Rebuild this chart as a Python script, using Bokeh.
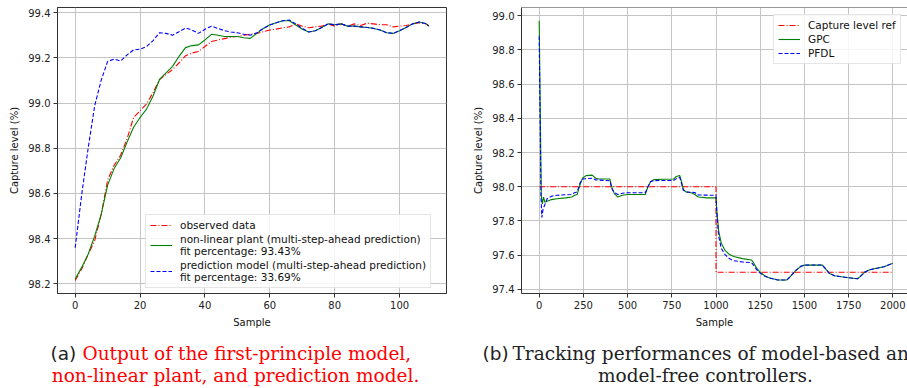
from bokeh.plotting import figure
from bokeh.layouts import column, row
from bokeh.models import (FixedTicker, PrintfTickFormatter, Legend, LegendItem,
                          Label, Span, Range1d)
from bokeh.embed import file_html
from bokeh.resources import INLINE

# ---------------- data: left panel (a) ----------------
samp_a = [0, 2, 4, 6, 8, 10, 12, 14, 16, 18, 20, 22, 24, 26, 28, 30, 32, 34, 36, 38,
          40, 42, 44, 46, 48, 50, 52, 54, 56, 58, 60, 62, 64, 66, 68, 70, 72, 74, 76, 78,
          80, 82, 84, 86, 88, 90, 92, 94, 96, 98, 100, 102, 104, 106, 108, 109]
observed = [98.215, 98.266, 98.331, 98.390, 98.506, 98.659, 98.725, 98.769, 98.842, 98.936,
            98.966, 98.995, 99.046, 99.104, 99.126, 99.148, 99.177, 99.209, 99.221, 99.228,
            99.250, 99.272, 99.279, 99.285, 99.291, 99.294, 99.300, 99.304, 99.308, 99.315,
            99.323, 99.327, 99.333, 99.337, 99.350, 99.340, 99.333, 99.337, 99.340, 99.350,
            99.340, 99.350, 99.340, 99.350, 99.343, 99.353, 99.350, 99.346, 99.346, 99.337,
            99.340, 99.343, 99.350, 99.355, 99.350, 99.343]
plant = [98.222, 98.273, 98.331, 98.411, 98.506, 98.637, 98.710, 98.757, 98.827, 98.893,
         98.936, 98.973, 99.031, 99.104, 99.133, 99.162, 99.206, 99.245, 99.254, 99.257,
         99.279, 99.304, 99.300, 99.294, 99.294, 99.294, 99.289, 99.286, 99.308, 99.330,
         99.346, 99.355, 99.364, 99.364, 99.345, 99.326, 99.314, 99.320, 99.334, 99.350,
         99.346, 99.350, 99.340, 99.340, 99.337, 99.334, 99.330, 99.323, 99.311, 99.308,
         99.320, 99.334, 99.350, 99.358, 99.352, 99.340]
pred_model = [98.360, 98.594, 98.800, 98.987, 99.100, 99.184, 99.194, 99.186, 99.213, 99.235,
              99.238, 99.250, 99.276, 99.311, 99.308, 99.300, 99.315, 99.332, 99.323, 99.308,
              99.326, 99.340, 99.330, 99.320, 99.314, 99.311, 99.304, 99.300, 99.311, 99.330,
              99.345, 99.355, 99.364, 99.367, 99.350, 99.330, 99.314, 99.320, 99.334, 99.350,
              99.346, 99.350, 99.340, 99.340, 99.337, 99.334, 99.330, 99.323, 99.311, 99.308,
              99.320, 99.334, 99.350, 99.358, 99.352, 99.340]

# ---------------- data: right panel (b) ----------------
ref_x = [0, 1000, 1000, 2000]
ref_y = [98.0, 98.0, 97.5, 97.5]

gpc_x = [0, 12, 18, 25, 32, 45, 70, 100, 150, 185, 200, 215, 230, 245, 265, 300, 320, 340,
         400, 410, 425, 445, 470, 500, 600, 615, 630, 650, 700, 760, 775, 795, 805, 815,
         830, 860, 880, 900, 950, 1000, 1005, 1015, 1030, 1050, 1075, 1100, 1150, 1200,
         1210, 1230, 1250, 1275, 1300, 1350, 1400, 1420, 1450, 1480, 1500, 1600, 1620,
         1640, 1670, 1700, 1750, 1800, 1815, 1840, 1870, 1900, 1950, 2000]
gpc_y = [98.97, 97.95, 97.90, 97.94, 97.91, 97.915, 97.925, 97.93, 97.935, 97.94, 97.95,
         97.955, 98.01, 98.05, 98.065, 98.068, 98.05, 98.045, 98.045, 98.0, 97.96, 97.94,
         97.95, 97.955, 97.955, 98.0, 98.03, 98.042, 98.044, 98.045, 98.06, 98.066, 98.03,
         97.985, 97.97, 97.965, 97.955, 97.94, 97.935, 97.935, 97.86, 97.74, 97.67, 97.63,
         97.605, 97.592, 97.58, 97.572, 97.56, 97.525, 97.50, 97.48, 97.468, 97.455,
         97.455, 97.475, 97.51, 97.535, 97.542, 97.543, 97.52, 97.495, 97.48, 97.475,
         97.468, 97.462, 97.475, 97.50, 97.515, 97.522, 97.532, 97.553]

pfdl_x = [0, 10, 15, 22, 30, 45, 70, 100, 180, 200, 215, 230, 245, 300, 320, 400, 410,
          425, 445, 470, 500, 600, 615, 630, 650, 760, 780, 795, 805, 815, 830, 880, 900,
          1000, 1005, 1015, 1030, 1050, 1075, 1100, 1150, 1200, 1210, 1230, 1250, 1275,
          1300, 1350, 1400, 1420, 1450, 1480, 1500, 1600, 1620, 1640, 1670, 1700, 1750,
          1800, 1815, 1840, 1870, 1900, 1950, 2000]
pfdl_y = [98.88, 97.95, 97.82, 97.87, 97.89, 97.93, 97.945, 97.95, 97.955, 97.965, 97.97,
          98.02, 98.045, 98.05, 98.04, 98.035, 97.99, 97.965, 97.955, 97.962, 97.965,
          97.965, 98.0, 98.03, 98.036, 98.037, 98.05, 98.055, 98.02, 97.98, 97.97, 97.966,
          97.952, 97.95, 97.84, 97.71, 97.64, 97.605, 97.58, 97.568, 97.56, 97.557, 97.545,
          97.515, 97.495, 97.478, 97.467, 97.455, 97.455, 97.475, 97.51, 97.535, 97.542,
          97.543, 97.52, 97.495, 97.48, 97.475, 97.468, 97.462, 97.475, 97.50, 97.515,
          97.522, 97.532, 97.553]

a_xticks = [0, 20, 40, 60, 80, 100]
a_yticks = [98.2, 98.4, 98.6, 98.8, 99.0, 99.2, 99.4]
b_xticks = [0, 250, 500, 750, 1000, 1250, 1500, 1750, 2000]
b_yticks = [97.4, 97.6, 97.8, 98.0, 98.2, 98.4, 98.6, 98.8, 99.0]

caption_a1 = "Output of the first-principle model,"
caption_a2 = "non-linear plant, and prediction model."
caption_b1 = "Tracking performances of model-based and"
caption_b2 = "model-free controllers."

FONT = "DejaVu Sans"
SERIF = "DejaVu Serif"
RED = "#ff0000"
GREEN = "#008000"
BLUE = "#0000ff"


def style(p, xticks, yticks):
    p.xgrid.ticker = FixedTicker(ticks=xticks)
    p.ygrid.ticker = FixedTicker(ticks=yticks)
    p.grid.grid_line_color = "#c4c4c4"
    p.grid.grid_line_width = 1
    p.xaxis.ticker = FixedTicker(ticks=xticks)
    p.yaxis.ticker = FixedTicker(ticks=yticks)
    p.yaxis.formatter = PrintfTickFormatter(format="%.1f")
    for ax in (p.xaxis[0], p.yaxis[0]):
        ax.major_tick_out = 4
        ax.major_tick_in = 0
        ax.minor_tick_line_color = None
        ax.major_label_text_font = FONT
        ax.major_label_text_font_size = "10px"
        ax.major_label_text_color = "#222222"
        ax.axis_label_text_font = FONT
        ax.axis_label_text_font_size = "10px"
        ax.axis_label_text_font_style = "normal"
        ax.axis_label_text_color = "#111111"
        ax.axis_line_color = "#333333"
        ax.major_tick_line_color = "#333333"
        ax.major_label_standoff = 3
        ax.axis_label_standoff = 5
    p.outline_line_color = "#333333"
    p.background_fill_color = "white"
    p.border_fill_color = "white"


# ---------------- panel (a) ----------------
p1 = figure(width=455, height=330, output_backend="svg", toolbar_location=None,
            x_range=Range1d(-5.45, 114.45), y_range=Range1d(98.1575, 99.4225),
            min_border_left=57, min_border_right=9, min_border_top=7, min_border_bottom=34)
style(p1, a_xticks, a_yticks)
p1.xaxis.axis_label = "Sample"
p1.yaxis.axis_label = "Capture level (%)"
r_obs = p1.line(samp_a, observed, line_color=RED, line_width=1.1, line_dash="6 2 1 2")
r_pl = p1.line(samp_a, plant, line_color=GREEN, line_width=1.1)
r_pm = p1.line(samp_a, pred_model, line_color=BLUE, line_width=1.1, line_dash="4 2")
leg1 = Legend(items=[
    LegendItem(label="observed data", renderers=[r_obs]),
    LegendItem(label="non-linear plant (multi-step-ahead prediction)\nfit percentage: 93.43%",
               renderers=[r_pl]),
    LegendItem(label="prediction model (multi-step-ahead prediction)\nfit percentage: 33.69%",
               renderers=[r_pm]),
], location=(88, 5))
p1.add_layout(leg1)

# ---------------- panel (b) ----------------
p2 = figure(width=452, height=330, output_backend="svg", toolbar_location=None,
            x_range=Range1d(-100, 2083), y_range=Range1d(97.376, 99.048),
            min_border_left=66, min_border_right=0, min_border_top=7, min_border_bottom=34)
style(p2, b_xticks, b_yticks)
p2.outline_line_color = None
p2.add_layout(Span(location=99.048, dimension="width", line_color="#333333", line_width=1))
p2.xaxis.axis_label = "Sample"
p2.yaxis.axis_label = "Capture level (%)"
r_ref = p2.line(ref_x, ref_y, line_color=RED, line_width=1.1, line_dash="6 2 1 2")
r_gpc = p2.line(gpc_x, gpc_y, line_color=GREEN, line_width=1.1)
r_pfdl = p2.line(pfdl_x, pfdl_y, line_color=BLUE, line_width=1.1, line_dash="4 2")
leg2 = Legend(items=[
    LegendItem(label="Capture level ref", renderers=[r_ref]),
    LegendItem(label="GPC", renderers=[r_gpc]),
    LegendItem(label="PFDL", renderers=[r_pfdl]),
], location=(252, 229))
p2.add_layout(leg2)

for lg in (leg1, leg2):
    lg.label_text_font = FONT
    lg.label_text_font_size = "10.5px"
    lg.label_text_color = "#111111"
    lg.label_text_line_height = 1.25
    lg.glyph_width = 22
    lg.glyph_height = 12
    lg.label_standoff = 8
    lg.padding = 4
    lg.spacing = 2
    lg.margin = 0
    lg.border_line_color = "#cccccc"
    lg.background_fill_alpha = 0.85

# ---------------- captions ----------------
pc = figure(width=907, height=58, output_backend="svg", toolbar_location=None,
            x_range=Range1d(0, 907), y_range=Range1d(0, 58),
            min_border=0)
pc.axis.visible = False
pc.grid.visible = False
pc.outline_line_color = None


def lab(txt, x, y, color, font, size, align="left"):
    pc.add_layout(Label(x=x, y=y, x_units="screen", y_units="screen", text=txt,
                        text_color=color, text_font=font, text_font_size=size,
                        text_align=align, text_baseline="middle"))


CAP = "18.5px"
lab("(a)", 50, 35, "#222222", FONT, CAP)
lab(caption_a1, 82, 35, RED, SERIF, CAP)
lab(caption_a2, 235, 13, RED, SERIF, CAP, "center")
lab("(b)", 482, 35, "#222222", FONT, CAP)
lab(caption_b1, 512, 35, "#222222", SERIF, CAP)
lab(caption_b2, 705, 13, "#222222", SERIF, CAP, "center")

layout = column(row(p1, p2), pc)
open("out.html", "w").write(file_html(layout, INLINE))
